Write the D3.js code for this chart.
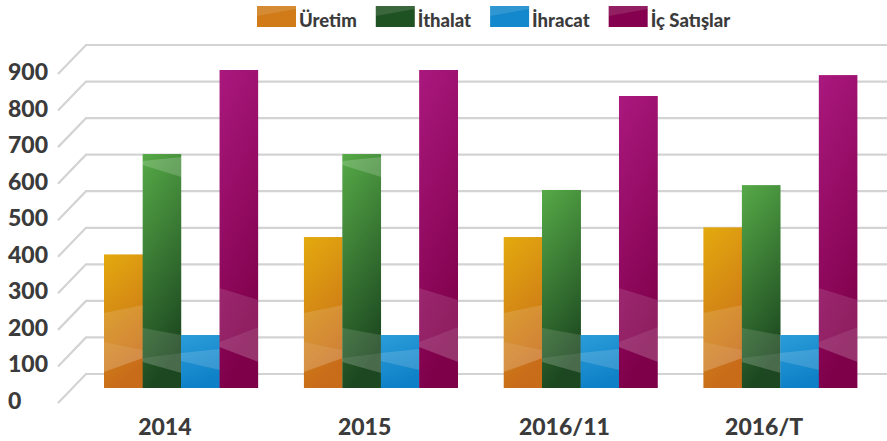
<!DOCTYPE html>
<html>
<head>
<meta charset="utf-8">
<script src="https://cdn.jsdelivr.net/npm/d3@7"></script>
<style>
  body { margin: 0; background: #fff; }
  svg text { font-family: Lato, "Open Sans", sans-serif; font-weight: 900; fill: #3b3b3b; }
</style>
</head>
<body>
<svg id="chart" width="887" height="441"></svg>
<script>
// data
const years = ["2014", "2015", "2016/11", "2016/T"];
const seriesNames = ["Üretim", "İthalat", "İhracat", "İç Satışlar"];
const uretim = [366, 413, 413, 440];
const ithalat = [640, 640, 542, 555];
const ihracat = [145, 145, 145, 145];
const icSatislar = [870, 870, 799, 856];
const yTicks = [0, 100, 200, 300, 400, 500, 600, 700, 800, 900];

const values = [uretim, ithalat, ihracat, icSatislar];

// colours per series: gradient top, gradient bottom, legend swatch
const colors = [
  { top: "#e3aa0e", bottom: "#c86c1a", flat: "#d07a18" },
  { top: "#56aa47", bottom: "#1c4720", flat: "#1f5222" },
  { top: "#2b9dd9", bottom: "#0e80c7", flat: "#1488cc" },
  { top: "#aa187e", bottom: "#7e0049", flat: "#85004e" }
];

// decorative light ribbons, [fraction across bar, px above bar bottom]
const ribbons = [
  [ { o: .13, p: [[0,75],[1,83],[1,38],[0,46]] }, { o: .2, p: [[0,46],[1,38],[1,30],[0,16]] } ],
  [ { o: .13, p: [[0,60],[1,53],[1,35],[0,30]] }, { o: .2, p: [[0,30],[1,35],[1,15],[0,26]] },
    { o: .18, p: [[0,227],[1,231],[1,211],[0,223]] } ],
  [ { o: .15, p: [[0,35],[1,39],[1,18],[0,27]] } ],
  [ { o: .12, p: [[0,100],[1,88],[1,61],[0,46]] }, { o: .2, p: [[0,46],[1,61],[1,26],[0,41]] } ]
];

const svg = d3.select("#chart");
const defs = svg.append("defs");

colors.forEach((c, i) => {
  const g = defs.append("linearGradient").attr("id", "grad" + i)
    .attr("x1", 0).attr("y1", 0).attr("x2", 0.25).attr("y2", 1);
  g.append("stop").attr("offset", "0%").attr("stop-color", c.top);
  g.append("stop").attr("offset", "100%").attr("stop-color", c.bottom);
});

// grid scale (back plane) and bar scale (sits a bit in front)
const yGrid = d3.scaleLinear().domain([0, 900]).range([374, 45]);
const yBar = d3.scaleLinear().domain([0, 900]).range([388, 59]);

const x0 = d3.scaleBand().domain(years).range([81, 880]).paddingInner(0.23).paddingOuter(0.115);
const x1 = d3.scaleBand().domain(seriesNames).range([0, x0.bandwidth()]);

// gridlines with slanted left end
const grid = svg.append("g");
yTicks.forEach(t => {
  const y = yGrid(t);
  grid.append("path")
    .attr("d", `M58,${y + 29}L86,${y}L887,${y}`)
    .attr("fill", "none")
    .attr("stroke", "#d3d3d3")
    .attr("stroke-width", 2.2);
  grid.append("text")
    .attr("x", 8)
    .attr("y", y + 27)
    .attr("dy", "0.35em")
    .style("font-size", "23px")
    .text(t);
});

// bars
const bars = svg.append("g");
years.forEach((yr, gi) => {
  seriesNames.forEach((s, si) => {
    const v = values[si][gi];
    const bx = x0(yr) + x1(s);
    const bw = x1.bandwidth() + 0.6; // slight overlap, no seams
    const top = yBar(v);
    const bottom = yBar(0);
    const clipId = `clip-${gi}-${si}`;
    defs.append("clipPath").attr("id", clipId)
      .append("rect").attr("x", bx).attr("y", top).attr("width", bw).attr("height", bottom - top);
    const bg = bars.append("g").attr("clip-path", `url(#${clipId})`);
    bg.append("rect")
      .attr("x", bx).attr("y", top)
      .attr("width", bw).attr("height", bottom - top)
      .attr("fill", `url(#grad${si})`);
    ribbons[si].forEach(r => {
      bg.append("polygon")
        .attr("points", r.p.map(([f, h]) => [bx + f * bw, bottom - h].join(",")).join(" "))
        .attr("fill", "#fff")
        .attr("opacity", r.o);
    });
  });
});

// x labels
svg.append("g")
  .selectAll("text")
  .data(years)
  .join("text")
  .attr("x", d => x0(d) + x0.bandwidth() / 2 - 16)
  .attr("y", 427)
  .attr("dy", "0.35em")
  .attr("text-anchor", "middle")
  .style("font-size", "23px")
  .text(d => d);

// legend
const legend = svg.append("g");
let lx = 257;
seriesNames.forEach((s, i) => {
  const item = legend.append("g").attr("transform", `translate(${lx},6)`);
  item.append("rect").attr("width", 39).attr("height", 21).attr("fill", colors[i].flat);
  item.append("polygon").attr("points", "0,0 39,0 39,3 0,10").attr("fill", "#fff").attr("opacity", 0.12);
  const t = item.append("text")
    .attr("x", 42).attr("y", 21)
    .style("font-size", "18.5px")
    .text(s);
  lx += 42 + t.node().getComputedTextLength() + 19;
});
</script>
</body>
</html>
